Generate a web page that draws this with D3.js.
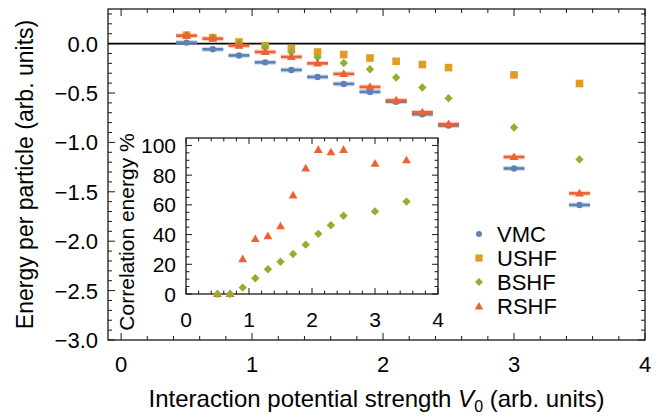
<!DOCTYPE html>
<html>
<head>
<meta charset="utf-8">
<script src="https://cdn.jsdelivr.net/npm/d3@7"></script>
<style>
  html, body { margin: 0; padding: 0; background: #fff; }
  svg { display: block; font-family: "Liberation Sans", Arial, sans-serif; }
</style>
</head>
<body>
<svg id="chart" width="664" height="420"></svg>
<script>
// Interaction strengths V0
const strengths = [0.5, 0.7, 0.9, 1.1, 1.3, 1.5, 1.7, 1.9, 2.1, 2.3, 2.5, 3.0, 3.5];

// Energy per particle for each method
const vmcEnergy  = [0.01, -0.058, -0.12, -0.19, -0.267, -0.338, -0.408, -0.489, -0.588, -0.715, -0.83, -1.264, -1.634];
const ushfEnergy = [0.085, 0.06, 0.016, -0.02, -0.05, -0.085, -0.111, -0.146, -0.179, -0.212, -0.243, -0.317, -0.404];
const bshfEnergy = [0.085, 0.06, 0.006, -0.034, -0.085, -0.139, -0.196, -0.26, -0.344, -0.445, -0.553, -0.85, -1.172];
const rshfEnergy = [0.08, 0.05, -0.02, -0.085, -0.135, -0.2, -0.307, -0.439, -0.576, -0.695, -0.816, -1.148, -1.516];

// Share of correlation energy recovered (%)
const bshfCorr = [0, 0, 4.3, 10.6, 16.7, 21.7, 26.9, 33.2, 40.5, 46.3, 52.7, 55.6, 62.2];
const rshfCorr = [0, 0, 23.5, 37, 39, 45.6, 66.4, 84.5, 97, 95.4, 97, 87.7, 90];

// Tick values
const mainXTicks = [0, 1, 2, 3, 4];
const mainYTicks = [0, -0.5, -1, -1.5, -2, -2.5, -3];
const insetXTicks = [0, 1, 2, 3, 4];
const insetYTicks = [0, 20, 40, 60, 80, 100];

const seriesNames = ["VMC", "USHF", "BSHF", "RSHF"];
const colors = {VMC: "#5E81B5", USHF: "#E19C24", BSHF: "#8FB131", RSHF: "#EB6235"};
const barHalf = 0.08;   // half width of the horizontal bars

const svg = d3.select("#chart");
const frameColor = "#1a1a1a";
const fontSize = 22;

// ---------- main panel ----------
const M = {left: 108, right: 645, top: 9, bottom: 340};
const x = d3.scaleLinear().domain([-0.1, 4]).range([M.left, M.right]);
const y = d3.scaleLinear().domain([-3, 0.35]).range([M.bottom, M.top]);

const main = svg.append("g");

// frame ticks (inward on all four sides)
function frameTicks(g, sx, sy, box, xMinor, yMinor, xMajors, yMajors, majLen, minLen) {
  const isMajor = (v, arr) => arr.some(m => Math.abs(m - v) < 1e-6);
  xMinor.forEach(v => {
    const len = isMajor(v, xMajors) ? majLen : minLen;
    const px = sx(v);
    g.append("line").attr("x1", px).attr("x2", px).attr("y1", box.bottom).attr("y2", box.bottom - len)
      .attr("stroke", frameColor).attr("stroke-width", 1);
    g.append("line").attr("x1", px).attr("x2", px).attr("y1", box.top).attr("y2", box.top + len)
      .attr("stroke", frameColor).attr("stroke-width", 1);
  });
  yMinor.forEach(v => {
    const len = isMajor(v, yMajors) ? majLen : minLen;
    const py = sy(v);
    g.append("line").attr("x1", box.left).attr("x2", box.left + len).attr("y1", py).attr("y2", py)
      .attr("stroke", frameColor).attr("stroke-width", 1);
    g.append("line").attr("x1", box.right).attr("x2", box.right - len).attr("y1", py).attr("y2", py)
      .attr("stroke", frameColor).attr("stroke-width", 1);
  });
  g.append("rect").attr("x", box.left).attr("y", box.top)
    .attr("width", box.right - box.left).attr("height", box.bottom - box.top)
    .attr("fill", "none").attr("stroke", frameColor).attr("stroke-width", 1.3);
}

const mainXMinor = d3.range(0, 4.0001, 0.2);
const mainYMinor = d3.range(-30, 4, 1).map(d => d / 10);
frameTicks(main, x, y, M, mainXMinor, mainYMinor, mainXTicks, mainYTicks, 7, 4);

// zero reference line
main.append("line").attr("x1", M.left).attr("x2", M.right)
  .attr("y1", y(0)).attr("y2", y(0)).attr("stroke", "#000").attr("stroke-width", 1.8);

// tick labels
const fmtY = v => (v < 0 ? "\u2212" : "") + Math.abs(v).toFixed(1);
main.selectAll("text.ytick").data(mainYTicks).enter().append("text")
  .attr("x", 98).attr("y", d => y(d)).attr("dy", "0.36em")
  .attr("text-anchor", "end").attr("font-size", fontSize).attr("fill", "#000")
  .text(fmtY);
main.selectAll("text.xtick").data(mainXTicks).enter().append("text")
  .attr("x", d => x(d)).attr("y", 372)
  .attr("text-anchor", "middle").attr("font-size", fontSize).attr("fill", "#000")
  .text(d => d);

// axis titles
main.append("text")
  .attr("transform", `translate(33,${(M.top + M.bottom) / 2}) rotate(-90)`)
  .attr("text-anchor", "middle").attr("font-size", 23).attr("fill", "#000")
  .text("Energy per particle (arb. units)");
const xt = main.append("text").attr("x", (M.left + M.right) / 2).attr("y", 407)
  .attr("text-anchor", "middle").attr("font-size", 24).attr("fill", "#000");
xt.append("tspan").text("Interaction potential strength ");
xt.append("tspan").attr("font-style", "italic").text("V");
xt.append("tspan").attr("font-size", 16).attr("dy", 5).text("0");
xt.append("tspan").attr("dy", -5).text(" (arb. units)");

// marker shapes
function marker(g, name, cx, cy, scale) {
  const s = scale || 1;
  const c = colors[name];
  if (name === "VMC") {
    g.append("circle").attr("cx", cx).attr("cy", cy).attr("r", 3.2 * s).attr("fill", c);
  } else if (name === "USHF") {
    const h = 3.8 * s;
    g.append("rect").attr("x", cx - h).attr("y", cy - h).attr("width", 2 * h).attr("height", 2 * h).attr("fill", c);
  } else if (name === "BSHF") {
    const h = 4.2 * s;
    g.append("path").attr("d", `M${cx},${cy - h}L${cx + h},${cy}L${cx},${cy + h}L${cx - h},${cy}Z`).attr("fill", c);
  } else {
    const h = 4.4 * s;
    g.append("path").attr("d", `M${cx},${cy - h * 1.05}L${cx + h},${cy + h * 0.7}L${cx - h},${cy + h * 0.7}Z`).attr("fill", c);
  }
}

function hbar(g, name, v, e) {
  const c = colors[name];
  g.append("line").attr("x1", x(v - barHalf)).attr("x2", x(v + barHalf)).attr("y1", y(e)).attr("y2", y(e))
    .attr("stroke", c).attr("stroke-width", 5).attr("stroke-opacity", 0.3);
  g.append("line").attr("x1", x(v - barHalf)).attr("x2", x(v + barHalf)).attr("y1", y(e)).attr("y2", y(e))
    .attr("stroke", c).attr("stroke-width", 2.6);
}

const pts = main.append("g");
strengths.forEach((v, i) => { hbar(pts, "VMC", v, vmcEnergy[i]); marker(pts, "VMC", x(v), y(vmcEnergy[i])); });
strengths.forEach((v, i) => marker(pts, "USHF", x(v), y(ushfEnergy[i])));
strengths.forEach((v, i) => marker(pts, "BSHF", x(v), y(bshfEnergy[i])));
strengths.forEach((v, i) => { hbar(pts, "RSHF", v, rshfEnergy[i]); marker(pts, "RSHF", x(v), y(rshfEnergy[i])); });

// legend
const legendRows = [234, 258, 282, 306.5];
seriesNames.forEach((name, i) => {
  marker(main, name, 479, legendRows[i], 0.95);
  main.append("text").attr("x", 497).attr("y", legendRows[i]).attr("dy", "0.36em")
    .attr("font-size", fontSize).attr("fill", "#000").text(name);
});

// ---------- inset ----------
const I = {left: 186, right: 438, top: 138, bottom: 294};
const ix = d3.scaleLinear().domain([0, 4]).range([I.left, I.right]);
const iy = d3.scaleLinear().domain([0, 105]).range([I.bottom, I.top]);
const inset = svg.append("g");
inset.append("rect").attr("x", I.left).attr("y", I.top).attr("width", I.right - I.left)
  .attr("height", I.bottom - I.top).attr("fill", "#fff");
frameTicks(inset, ix, iy, I, d3.range(0, 4.0001, 0.2), d3.range(0, 105, 5), insetXTicks, insetYTicks, 6, 3.5);

inset.selectAll("text.iy").data(insetYTicks).enter().append("text")
  .attr("x", 176).attr("y", d => iy(d)).attr("dy", "0.36em")
  .attr("text-anchor", "end").attr("font-size", 21).attr("fill", "#000").text(d => d);
inset.selectAll("text.ix").data(insetXTicks).enter().append("text")
  .attr("x", d => ix(d)).attr("y", 327)
  .attr("text-anchor", "middle").attr("font-size", 21).attr("fill", "#000").text(d => d);
inset.append("text")
  .attr("transform", `translate(134,${(I.top + I.bottom) / 2 + 16}) rotate(-90)`)
  .attr("text-anchor", "middle").attr("font-size", 21).attr("fill", "#000")
  .text("Correlation energy %");

const ipts = inset.append("g");
strengths.forEach((v, i) => marker(ipts, "RSHF", ix(v), iy(rshfCorr[i])));
strengths.forEach((v, i) => marker(ipts, "BSHF", ix(v), iy(bshfCorr[i])));
</script>
</body>
</html>
